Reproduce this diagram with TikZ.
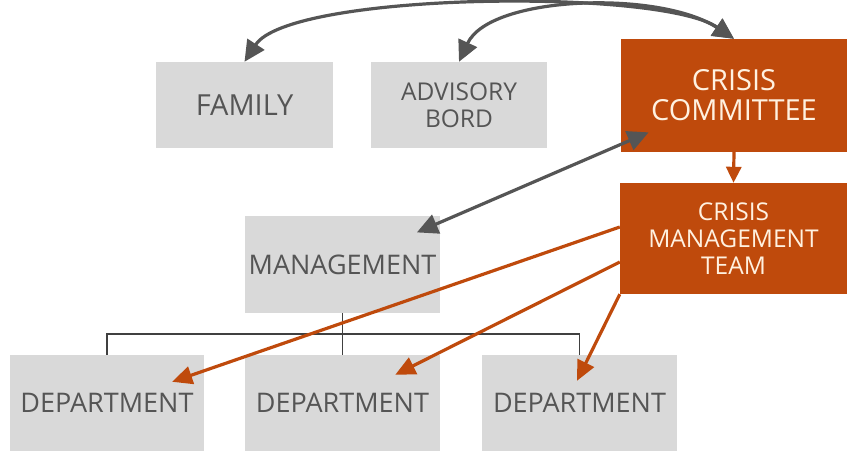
\documentclass[tikz,border=0pt]{standalone}
\usepackage{fontspec}
\setmainfont{Open Sans}
\usetikzlibrary{arrows.meta,calc}
\definecolor{boxgrey}{HTML}{D9D9D9}
\definecolor{txtgrey}{HTML}{555555}
\definecolor{arrgrey}{HTML}{555555}
\definecolor{crisis}{HTML}{BF4A0C}
\definecolor{cream}{HTML}{FFF1E0}
\begin{document}
\begin{tikzpicture}[x=1pt,y=-1pt,
  greybox/.style={fill=boxgrey, draw=none, text=txtgrey, align=center, inner sep=0pt,
    font=\fontsize{27}{30}\selectfont},
  orangebox/.style={fill=crisis, draw=none, text=cream, align=center, inner sep=0pt},
  greyarrow/.style={draw=arrgrey, line width=3.2pt, {Triangle[length=21pt,width=20pt]}-{Triangle[length=21pt,width=20pt]}},
  orangearrow/.style={draw=crisis, line width=3.2pt, -{Triangle[length=20pt,width=18pt]}},
  treeline/.style={draw=black!75, line width=1.5pt}]
\useasboundingbox (0,0) rectangle (849,467);
\node[greybox, minimum width=177pt, minimum height=86pt, font=\fontsize{29}{30}\selectfont] (fam) at (244.5,105) {FAMILY};
\node[greybox, minimum width=176pt, minimum height=86pt, font=\fontsize{24.5}{27}\selectfont] (adv) at (459,105) {ADVISORY\\BORD};
\node[orangebox, minimum width=226pt, minimum height=113pt, font=\fontsize{29}{30}\selectfont] (cc) at (734,95.5) {CRISIS\\COMMITTEE};
\node[orangebox, minimum width=227pt, minimum height=111pt, font=\fontsize{24.5}{27}\selectfont] (cmt) at (733.5,238.5) {CRISIS\\MANAGEMENT\\TEAM};
\node[greybox, minimum width=195pt, minimum height=97pt] (mg) at (342.5,264.5) {MANAGEMENT};
\node[greybox, minimum width=194pt, minimum height=96pt] (d1) at (107,403) {DEPARTMENT};
\node[greybox, minimum width=195pt, minimum height=96pt] (d2) at (342.5,403) {DEPARTMENT};
\node[greybox, minimum width=195pt, minimum height=96pt] (d3) at (579.5,403) {DEPARTMENT};
% tree
\draw[treeline] (mg.south) -- (d2.north);
\draw[treeline] ($(mg.south)+(0,21)$) -| (d1.north);
\draw[treeline] ($(mg.south)+(0,21)$) -| (d3.north);
% curved arrows
\draw[greyarrow] (fam.north) .. controls (290,-8) and (660,-12) .. (cc.north);
\draw[greyarrow] (adv.north) .. controls (490,-5) and (660,-10) .. (cc.north);
% straight grey
\draw[greyarrow, shorten <=81pt, shorten >=93pt] (mg.center) -- (cc.center);
% orange
\draw[orangearrow, -{Triangle[length=16pt,width=15pt]}] (cc.south) -- (cmt.north);
\coordinate (s1) at ($(cmt.west)+(0,-11.5)$);
\coordinate (s2) at ($(cmt.west)+(0,23.5)$);
\coordinate (e1) at ($(d1.north east)+(-32,27)$);
\coordinate (e2) at ($(d2.north east)+(-45,20)$);
\coordinate (e3) at ($(d3.north)+(-2.5,26)$);
\draw[orangearrow] (s1) -- (e1);
\draw[orangearrow] (s2) -- (e2);
\draw[orangearrow] (cmt.south west) -- (e3);
\end{tikzpicture}
\end{document}
